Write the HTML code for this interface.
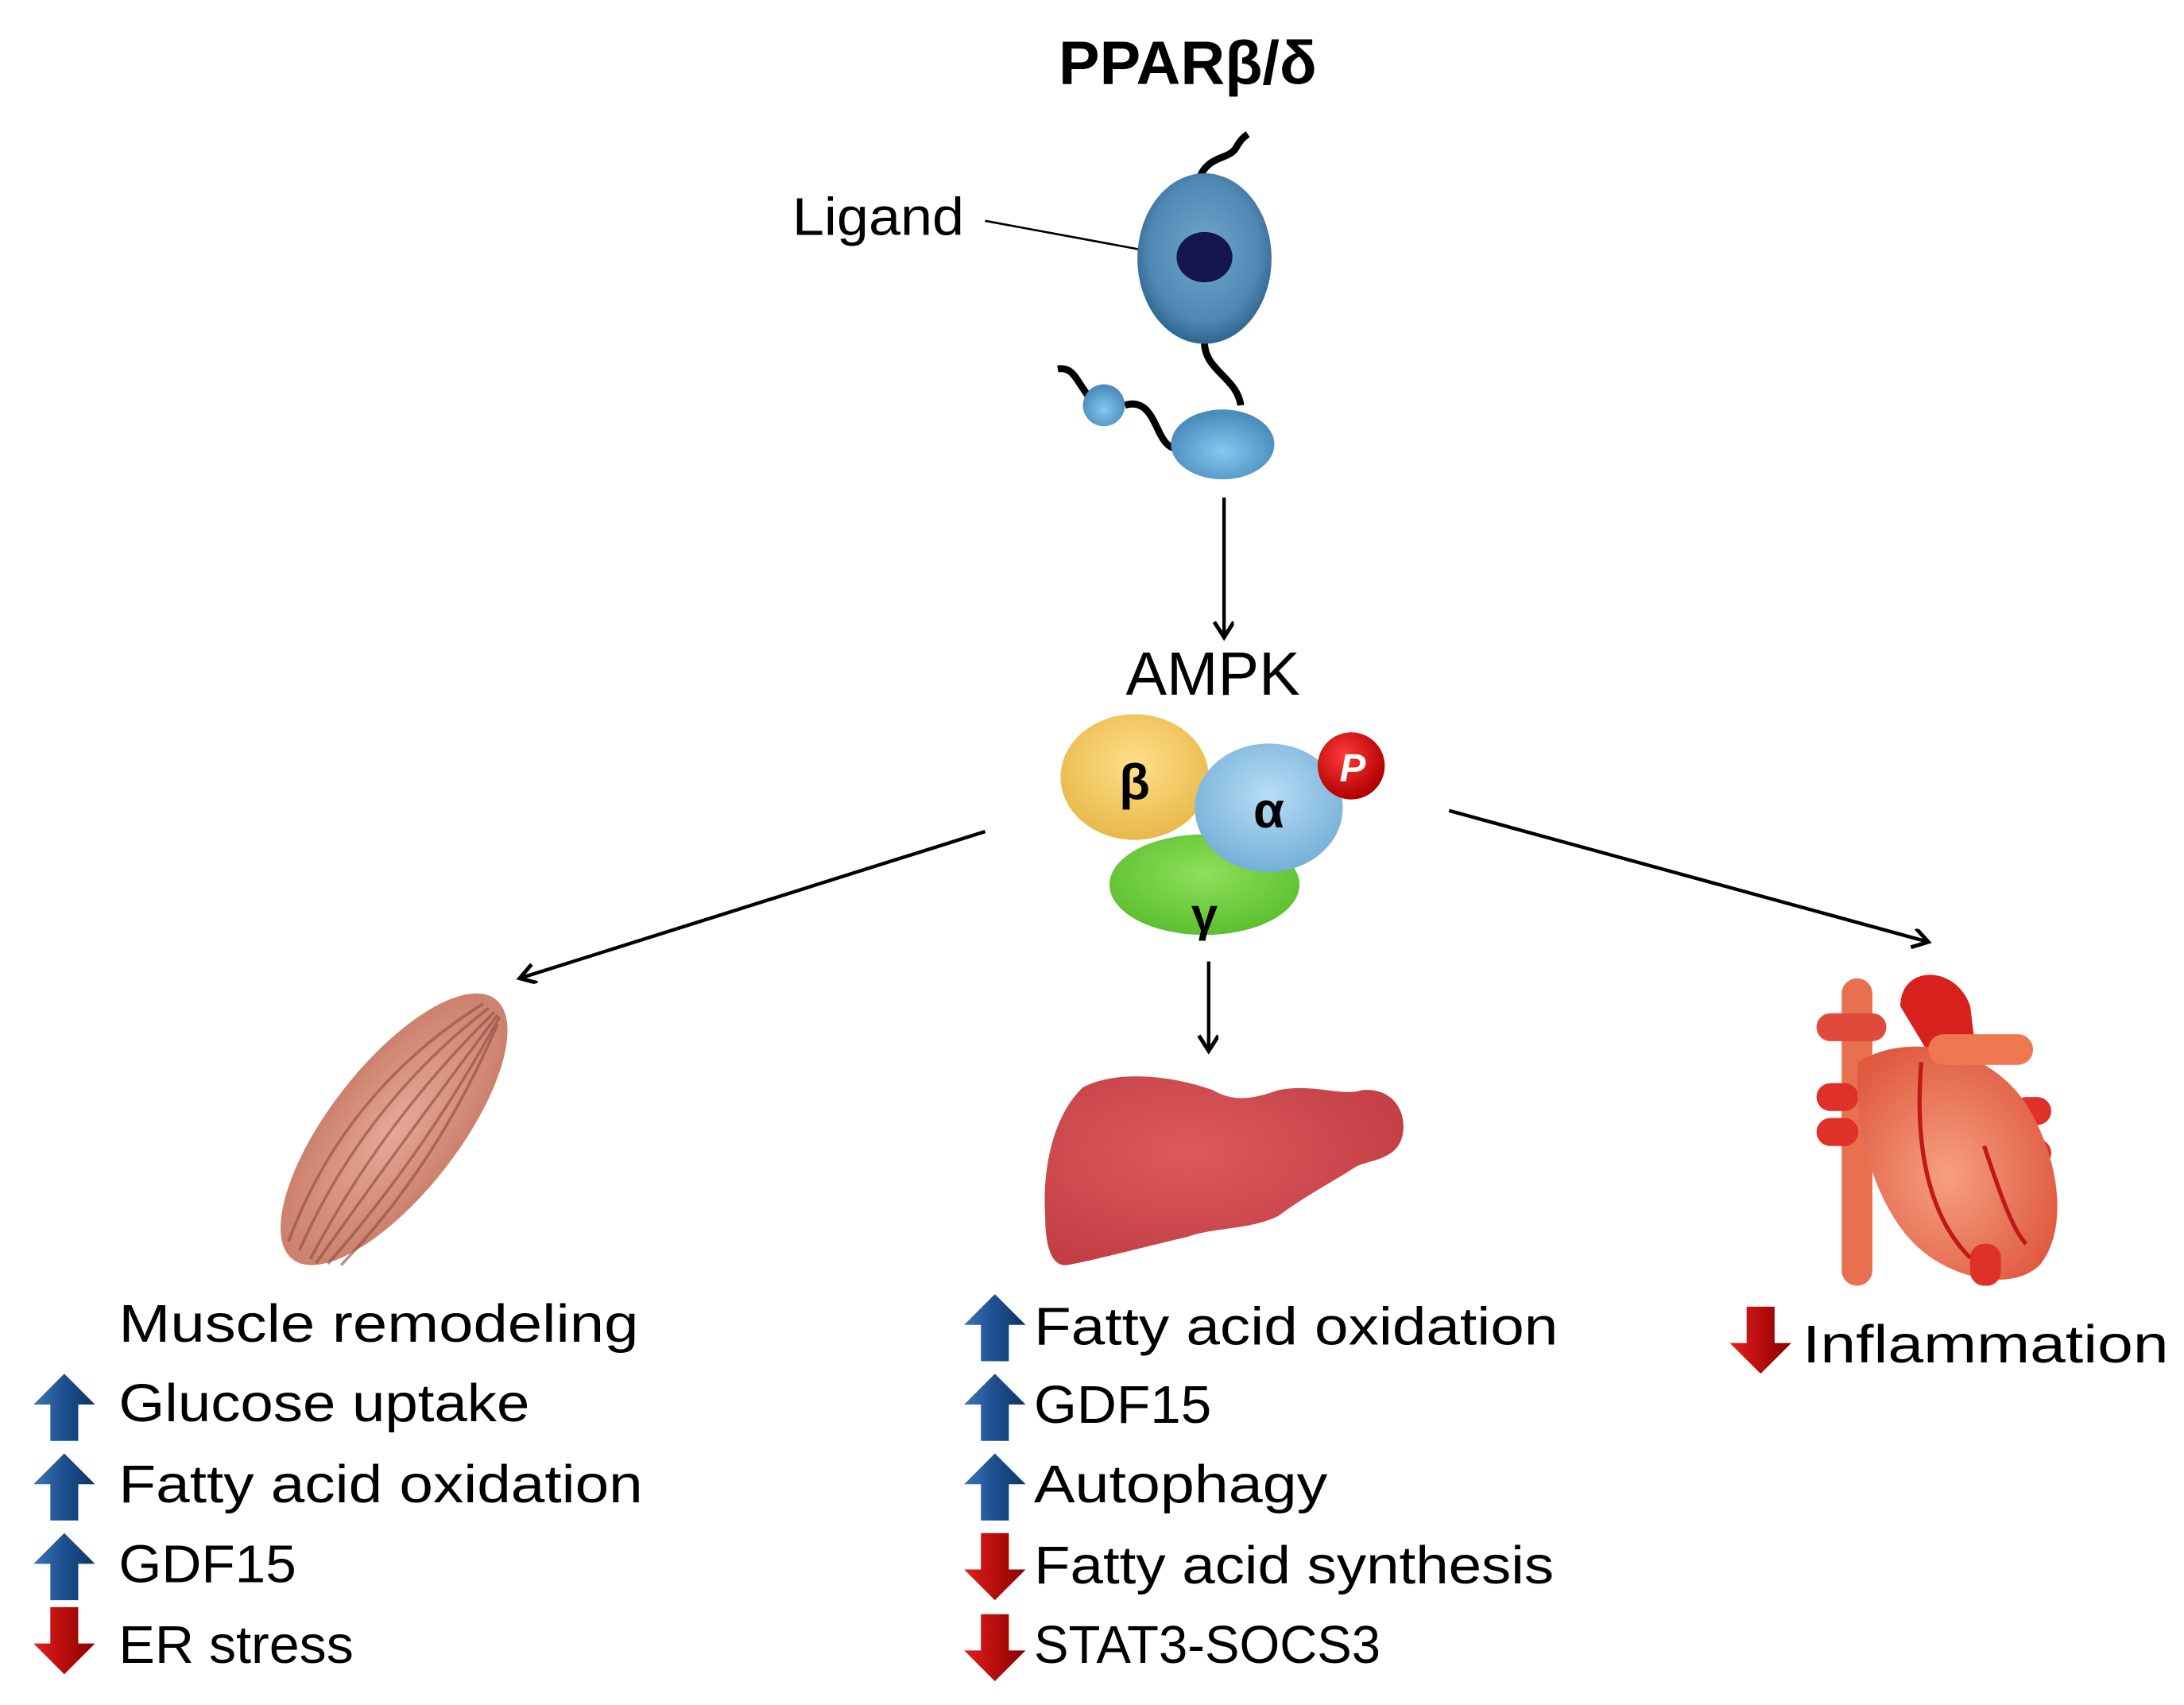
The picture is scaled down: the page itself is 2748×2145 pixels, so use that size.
<!DOCTYPE html>
<html><head><meta charset="utf-8"><style>
html,body{margin:0;padding:0;background:#fff;}
svg{display:block;}
text{font-family:"Liberation Sans",sans-serif;fill:#000;}
</style></head><body>
<svg width="2748" height="2145" viewBox="0 0 1563 1220" preserveAspectRatio="none" xmlns="http://www.w3.org/2000/svg">
<defs>
<radialGradient id="gBig" cx="50%" cy="45%" r="55%"><stop offset="0" stop-color="#6fa6cf"/><stop offset="0.75" stop-color="#4f88b3"/><stop offset="1" stop-color="#2f6690"/></radialGradient>
<radialGradient id="gSm" cx="50%" cy="60%" r="55%"><stop offset="0" stop-color="#85c8f0"/><stop offset="1" stop-color="#4a8cbc"/></radialGradient>
<radialGradient id="gB" cx="50%" cy="40%" r="60%"><stop offset="0" stop-color="#ffe08a"/><stop offset="1" stop-color="#e8b84a"/></radialGradient>
<radialGradient id="gA" cx="50%" cy="40%" r="60%"><stop offset="0" stop-color="#b8ddf5"/><stop offset="1" stop-color="#75b0d8"/></radialGradient>
<radialGradient id="gG" cx="50%" cy="40%" r="60%"><stop offset="0" stop-color="#8ee05a"/><stop offset="1" stop-color="#5cbf30"/></radialGradient>
<radialGradient id="gP" cx="40%" cy="35%" r="65%"><stop offset="0" stop-color="#ff3a3a"/><stop offset="1" stop-color="#b00000"/></radialGradient>
<linearGradient id="gUp" x1="0" x2="1"><stop offset="0" stop-color="#3d74b5"/><stop offset="0.5" stop-color="#1d4f8f"/><stop offset="1" stop-color="#0d3568"/></linearGradient>
<linearGradient id="gDn" x1="0" x2="1"><stop offset="0" stop-color="#e02020"/><stop offset="0.5" stop-color="#b80d0d"/><stop offset="1" stop-color="#8a0000"/></linearGradient>
<radialGradient id="gMus" cx="50%" cy="50%" r="55%"><stop offset="0" stop-color="#e8a896"/><stop offset="1" stop-color="#c97d6a"/></radialGradient>
<radialGradient id="gLiv" cx="40%" cy="40%" r="70%"><stop offset="0" stop-color="#dc5a5e"/><stop offset="1" stop-color="#c03c42"/></radialGradient>
<radialGradient id="gHeart" cx="45%" cy="55%" r="60%"><stop offset="0" stop-color="#f6a080"/><stop offset="1" stop-color="#e05a40"/></radialGradient>
<g id="up"><polygon points="22,0 44,22 32,22 32,48 12,48 12,22 0,22" fill="url(#gUp)"/></g>
<g id="dn"><polygon points="12,0 32,0 32,26 44,26 22,48 0,26 12,26" fill="url(#gDn)"/></g>
<marker id="ah" markerWidth="16" markerHeight="16" refX="12" refY="7" orient="auto" markerUnits="userSpaceOnUse"><path d="M1,0 L12,7 L1,14" fill="none" stroke="#000" stroke-width="2.8"/></marker>
</defs>

<text x="850" y="60" font-size="44" font-weight="bold" text-anchor="middle">PPARβ/δ</text>
<text x="567" y="168" font-size="38" textLength="123" lengthAdjust="spacingAndGlyphs">Ligand</text>
<line x1="705" y1="158" x2="840" y2="183" stroke="#000" stroke-width="1.5"/>

<path d="M858,128 C865,110 880,115 885,105 C888,100 890,98 893,96" stroke="#000" stroke-width="5" fill="none"/>
<path d="M862,245 C862,265 885,270 888,290" stroke="#000" stroke-width="5" fill="none"/>
<path d="M757,264 C768,262 770,272 780,285 M805,290 C820,285 825,300 830,310 C835,320 840,322 845,320" stroke="#000" stroke-width="5" fill="none"/>
<ellipse cx="862" cy="185" rx="48" ry="61" fill="url(#gBig)"/>
<ellipse cx="862" cy="184" rx="20" ry="18" fill="#15164f"/>
<ellipse cx="875" cy="318" rx="37" ry="25" fill="url(#gSm)"/>
<circle cx="790" cy="290" r="15" fill="url(#gSm)"/>

<line x1="876" y1="356" x2="876" y2="456" stroke="#000" stroke-width="2.5" marker-end="url(#ah)"/>
<text x="868" y="497" font-size="44" text-anchor="middle">AMPK</text>

<ellipse cx="862" cy="633" rx="68" ry="36" fill="url(#gG)"/>
<ellipse cx="812" cy="556" rx="53" ry="45" fill="url(#gB)"/>
<ellipse cx="908" cy="578" rx="53" ry="46" fill="url(#gA)"/>
<circle cx="967" cy="548" r="24" fill="url(#gP)"/>
<text x="812" y="572" font-size="36" font-weight="bold" text-anchor="middle">β</text>
<text x="908" y="592" font-size="36" font-weight="bold" text-anchor="middle">α</text>
<text x="862" y="666" font-size="34" font-weight="bold" text-anchor="middle">γ</text>
<text x="968" y="559" font-size="28" font-weight="bold" font-style="italic" text-anchor="middle" style="fill:#fff">P</text>

<line x1="705" y1="595" x2="372" y2="700" stroke="#000" stroke-width="2.5" marker-end="url(#ah)"/>
<line x1="865" y1="688" x2="865" y2="752" stroke="#000" stroke-width="2.5" marker-end="url(#ah)"/>
<line x1="1037" y1="580" x2="1380" y2="674" stroke="#000" stroke-width="2.5" marker-end="url(#ah)"/>

<g transform="translate(282,808) rotate(-52)">
<ellipse cx="0" cy="0" rx="118" ry="46" fill="url(#gMus)"/>
<path d="M-110,-10 Q0,-45 110,-5 M-110,0 Q0,-28 110,0 M-110,10 Q0,-10 110,5 M-110,15 Q0,10 110,8 M-105,22 Q0,28 110,10 M-100,30 Q0,40 105,12" stroke="#8a4a40" stroke-width="2" fill="none" opacity="0.6"/>
</g>

<path d="M775,778 C800,765 840,770 868,780 C885,790 900,785 915,780 C940,775 960,785 975,780 C1000,778 1008,800 1003,815 C998,830 980,830 970,835 C955,845 935,855 915,870 C895,880 870,878 850,885 C820,892 790,900 765,905 C752,908 748,890 748,870 C746,840 752,800 775,778 Z" fill="url(#gLiv)"/>

<g>
<rect x="1318" y="700" width="22" height="220" rx="11" fill="#e8704f"/>
<rect x="1300" y="725" width="50" height="20" rx="10" fill="#e04a3a"/>
<rect x="1300" y="775" width="30" height="20" rx="10" fill="#e0302a"/>
<rect x="1300" y="800" width="30" height="20" rx="10" fill="#e0302a"/>
<rect x="1440" y="785" width="28" height="20" rx="10" fill="#e0302a"/>
<rect x="1440" y="815" width="28" height="20" rx="10" fill="#e0302a"/>
<path d="M1360,720 C1360,690 1400,690 1410,720 L1415,760 L1390,770 Z" fill="#d8201c"/>
<path d="M1330,760 C1360,740 1420,745 1450,790 C1475,830 1480,880 1460,905 C1440,925 1395,915 1370,890 C1340,860 1325,800 1330,760 Z" fill="url(#gHeart)"/>
<rect x="1380" y="740" width="75" height="22" rx="11" fill="#f07850"/>
<rect x="1410" y="890" width="22" height="30" rx="10" fill="#e0302a"/>
<path d="M1375,760 C1370,820 1380,870 1410,900 M1420,820 C1430,850 1440,880 1450,890" stroke="#c01818" stroke-width="3" fill="none"/>
</g>

<g font-size="38">
<text x="85" y="960" textLength="372" lengthAdjust="spacingAndGlyphs">Muscle remodeling</text>
<use href="#up" x="24" y="983"/><text x="85" y="1017" textLength="294" lengthAdjust="spacingAndGlyphs">Glucose uptake</text>
<use href="#up" x="24" y="1040"/><text x="85" y="1075" textLength="375" lengthAdjust="spacingAndGlyphs">Fatty acid oxidation</text>
<use href="#up" x="24" y="1097"/><text x="85" y="1132" textLength="127" lengthAdjust="spacingAndGlyphs">GDF15</text>
<use href="#dn" x="24" y="1150"/><text x="85" y="1190" textLength="168" lengthAdjust="spacingAndGlyphs">ER stress</text>

<use href="#up" x="690" y="926"/><text x="740" y="962" textLength="375" lengthAdjust="spacingAndGlyphs">Fatty acid oxidation</text>
<use href="#up" x="690" y="983"/><text x="740" y="1018" textLength="127" lengthAdjust="spacingAndGlyphs">GDF15</text>
<use href="#up" x="690" y="1040"/><text x="740" y="1075" textLength="210" lengthAdjust="spacingAndGlyphs">Autophagy</text>
<use href="#dn" x="690" y="1097"/><text x="740" y="1133" textLength="372" lengthAdjust="spacingAndGlyphs">Fatty acid synthesis</text>
<use href="#dn" x="690" y="1155"/><text x="740" y="1190" textLength="248" lengthAdjust="spacingAndGlyphs">STAT3-SOCS3</text>

<use href="#dn" x="1238" y="935"/><text x="1290" y="975" textLength="262" lengthAdjust="spacingAndGlyphs">Inflammation</text>
</g>
</svg>
</body></html>
